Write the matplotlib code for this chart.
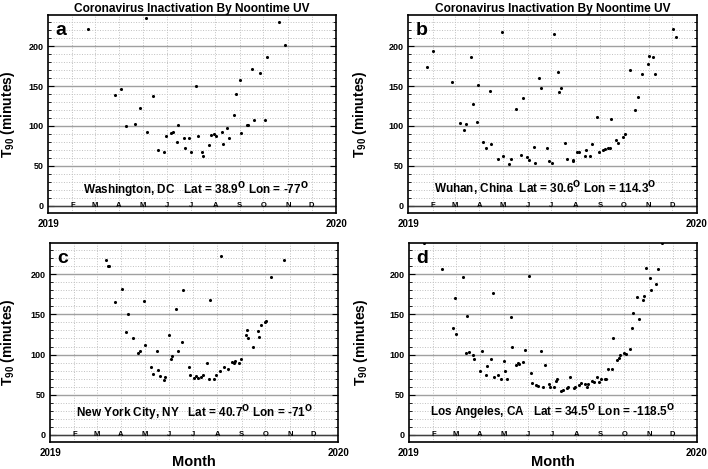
import numpy as np
import matplotlib
matplotlib.use("Agg")
import matplotlib.pyplot as plt
from matplotlib.ticker import MultipleLocator, FixedLocator

plt.rcParams['font.family'] = ['Liberation Sans', 'DejaVu Sans']
plt.rcParams['font.weight'] = 'bold'
plt.rcParams['mathtext.default'] = 'regular'

# day of year (2019) and T90 in minutes
dc_day = [51, 85, 92, 99, 110, 117, 124, 126, 133, 140, 147, 149, 156, 158, 163, 165,
          172, 174, 179, 181, 188, 190, 195, 197, 204, 206, 211, 213, 220, 222, 227, 229,
          236, 238, 243, 245, 252, 254, 259, 261, 269, 275, 277, 293, 300]
dc_t90 = [221, 139, 146, 100, 102, 123, 235, 92, 138, 70, 67, 87, 91, 93, 80, 101,
          85, 72, 85, 67, 150, 87, 67, 63, 76, 89, 90, 87, 93, 77, 97, 85,
          114, 140, 158, 91, 101, 101, 171, 107, 166, 107, 187, 230, 202]

wuhan_day = [24, 32, 55, 66, 71, 73, 79, 82, 87, 89, 95, 98, 103, 105, 114, 119,
             120, 128, 130, 136, 143, 145, 150, 153, 159, 161, 166, 168, 175, 178, 182, 184,
             190, 191, 193, 198, 201, 208, 209, 214, 216, 223, 225, 230, 233, 239, 241, 246,
             249, 253, 255, 257, 263, 265, 271, 274, 281, 287, 290, 296, 303, 305, 310, 312,
             335, 338]
wuhan_t90 = [174, 194, 155, 104, 95, 102, 186, 128, 105, 151, 80, 73, 144, 78, 59, 218,
             63, 52, 59, 121, 64, 135, 61, 58, 74, 54, 160, 148, 73, 56, 54, 215,
             167, 142, 147, 79, 59, 56, 57, 67, 67, 62, 70, 62, 77, 111, 67, 70,
             71, 73, 73, 109, 83, 79, 86, 90, 170, 120, 136, 165, 177, 188, 186, 165,
             221, 212]

nyc_day = [71, 74, 75, 82, 91, 96, 99, 105, 112, 114, 119, 121, 128, 130, 135, 137,
           139, 144, 146, 151, 153, 155, 160, 162, 167, 169, 176, 178, 183, 185, 187, 192,
           194, 199, 201, 203, 208, 210, 215, 217, 220, 226, 231, 233, 235, 240, 242, 248,
           250, 251, 257, 263, 265, 267, 272, 274, 280, 296]
nyc_t90 = [218, 210, 210, 166, 182, 128, 151, 120, 102, 105, 167, 112, 84, 76, 104, 81,
           73, 68, 72, 124, 94, 98, 157, 105, 116, 181, 84, 74, 71, 73, 71, 72,
           74, 90, 69, 168, 70, 74, 80, 223, 85, 82, 91, 90, 92, 89, 95, 124,
           130, 121, 110, 129, 122, 137, 141, 142, 197, 218]

la_day = [19, 42, 56, 58, 60, 68, 72, 74, 76, 81, 83, 90, 92, 97, 99, 104,
          106, 108, 113, 116, 120, 122, 124, 129, 131, 136, 138, 140, 145, 147, 152, 154,
          156, 161, 163, 167, 170, 172, 177, 179, 184, 186, 188, 193, 195, 200, 202, 204,
          209, 211, 216, 218, 223, 225, 227, 232, 234, 238, 241, 243, 248, 250, 252, 257,
          259, 264, 266, 268, 273, 275, 280, 282, 284, 289, 291, 296, 298, 300, 305, 307,
          313, 316, 321]
la_t90 = [238.5, 207, 133, 170, 126, 197, 102, 148, 103, 99, 95, 79, 105, 75, 86, 95,
          177, 72, 75, 69, 92, 79, 70, 147, 109, 87, 90, 88, 91, 106, 198, 77,
          64, 62, 61, 104, 60, 87, 63, 60, 60, 67, 70, 54, 56, 58, 60, 72,
          58, 60, 62, 64, 63, 60, 63, 67, 66, 72, 66, 70, 69, 69, 82, 82,
          121, 93, 96, 99, 102, 101, 107, 133, 152, 172, 144, 168, 173, 208, 196, 181,
          188, 206, 238.5]

DEG = r'$^{\mathrm{O}}$'
panels = [
    ('a', dc_day, dc_t90, 'Washington, DC   Lat = 38.9' + DEG + ' Lon = -77' + DEG, 0.514, 20),
    ('b', wuhan_day, wuhan_t90, 'Wuhan, China  Lat = 30.6' + DEG + ' Lon = 114.3' + DEG, 0.474, 22),
    ('c', nyc_day, nyc_t90, 'New York City, NY   Lat = 40.7' + DEG + ' Lon = -71' + DEG, 0.503, 27),
    ('d', la_day, la_t90, 'Los Angeles, CA   Lat = 34.5' + DEG + ' Lon = -118.5' + DEG, 0.497, 28.5),
]

month_len = [31, 28, 31, 30, 31, 30, 31, 31, 30, 31, 30, 31]
month_start = np.cumsum([0] + month_len[:-1])
month_letter = ['J', 'F', 'M', 'A', 'M', 'J', 'J', 'A', 'S', 'O', 'N', 'D']

W, H = 708, 469
boxes = [(48, 15, 288, 198), (408, 15, 289, 198), (50, 243, 288, 199), (409, 243, 288, 199)]
ylab_x = [-0.107, -0.135, -0.115, -0.135]

fig = plt.figure(figsize=(W / 100, H / 100), dpi=100)

for i, (tag, days, t90, place, tx, ty) in enumerate(panels):
    x0, y0, w, h = boxes[i]
    ax = fig.add_axes([x0 / W, 1 - (y0 + h) / H, w / W, h / H])
    ax.set_xlim(0, 365)
    ax.set_ylim(-9, 239)

    # grid
    ax.yaxis.set_major_locator(MultipleLocator(50))
    ax.yaxis.set_minor_locator(MultipleLocator(10))
    ax.xaxis.set_major_locator(FixedLocator([0, 365]))
    ax.xaxis.set_minor_locator(FixedLocator(month_start[1:]))
    ax.xaxis.set_ticklabels(['2019', '2020'])
    ax.grid(which='major', axis='y', color='#a0a0a0', lw=1.0, ls='-')
    ax.grid(which='minor', axis='y', color='#c0c0c0', lw=0.7, ls=':')
    ax.grid(which='minor', axis='x', color='#c0c0c0', lw=0.7, ls=':')
    ax.axhline(0, color='#404040', lw=1.0, zorder=1.5)
    ax.set_axisbelow(True)

    for m in range(1, 12):
        ax.text(month_start[m], 0, month_letter[m], ha='center', va='center',
                fontsize=5.5, fontweight='bold', zorder=3)

    ax.scatter(days, t90, s=5, color='black', zorder=4, linewidths=0)

    ax.tick_params(axis='y', which='both', direction='in', left=True, right=True,
                   labelsize=6.5, pad=3)
    ax.tick_params(axis='y', which='major', length=4, width=0.8)
    ax.tick_params(axis='y', which='minor', length=2, width=0.6)
    ax.tick_params(axis='x', which='major', length=0, labelsize=7, pad=4)
    ax.tick_params(axis='x', which='minor', length=0)
    for s in ax.spines.values():
        s.set_linewidth(1.2)

    ax.set_ylabel('T$_{90}$ (minutes)', fontsize=10, fontweight='bold')
    ax.yaxis.set_label_coords(ylab_x[i], 0.5)

    ax.text(0.025, 0.965, tag, transform=ax.transAxes, fontsize=14, fontweight='bold',
            ha='left', va='top')
    ax.text(tx, ty, place, transform=ax.get_yaxis_transform(), fontsize=8.5,
            fontweight='bold', ha='center', va='center')

    if i < 2:
        ax.set_title('Coronavirus Inactivation By Noontime UV', fontsize=8.6,
                     fontweight='bold', pad=2)
    else:
        ax.set_xlabel('Month', fontsize=10.5, fontweight='bold')
        ax.xaxis.set_label_coords(0.5, -0.065)

fig.savefig('out.png', dpi=100)
